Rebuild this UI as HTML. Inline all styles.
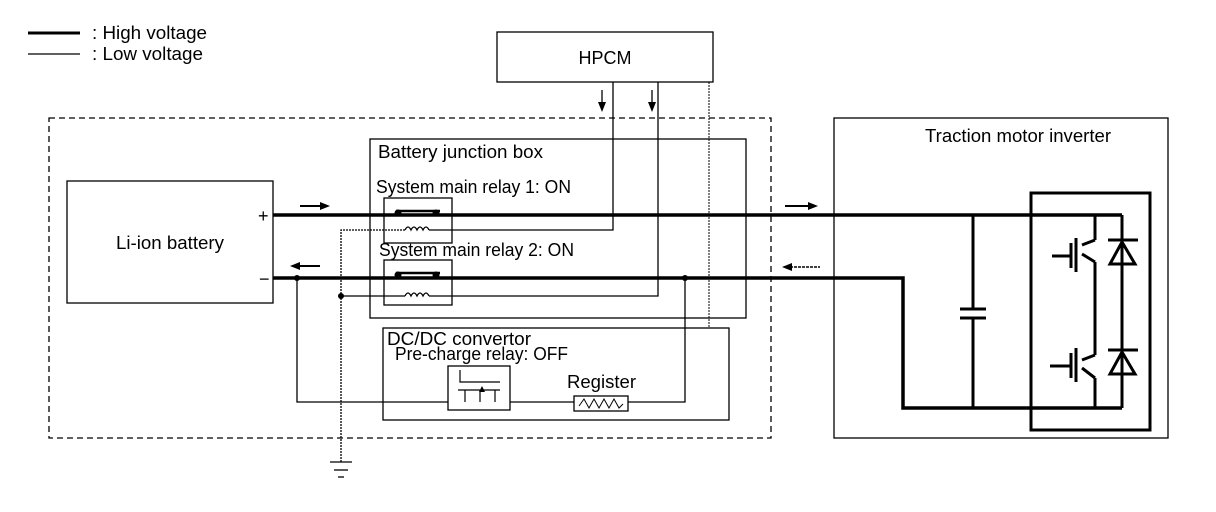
<!DOCTYPE html>
<html><head><style>
body{margin:0;background:#fff;}
svg{display:block;}
text{font-family:"Liberation Sans",sans-serif;fill:#000;}
</style></head><body>
<svg width="1216" height="512" viewBox="0 0 1216 512" xmlns="http://www.w3.org/2000/svg">
<g fill="none" stroke="#000">
<line x1="28" y1="33" x2="80" y2="33" stroke-width="3"/>
<line x1="28" y1="54" x2="80" y2="54" stroke-width="1.3"/>
<rect x="497" y="32" width="216" height="50" stroke-width="1.3"/>
<rect x="49" y="118" width="722" height="320" stroke-width="1.3" stroke-dasharray="6,4"/>
<rect x="67" y="181" width="206" height="122" stroke-width="1.3"/>
<rect x="370" y="139" width="376" height="179" stroke-width="1.3"/>
<rect x="384" y="198" width="68" height="45" stroke-width="1.3"/>
<rect x="384" y="260" width="68" height="45" stroke-width="1.3"/>
<rect x="383" y="328" width="346" height="92" stroke-width="1.3"/>
<rect x="448" y="366" width="62" height="44" stroke-width="1.3"/>
<rect x="574" y="396" width="54" height="15" stroke-width="1.3"/>
<polyline points="579,406 584,399 589,408 594,399 599,408 604,399 609,408 614,399 619,408 623,404" stroke-width="1"/>
<polyline points="460,370 460,382 500,382" stroke-width="1.2"/>
<line x1="458" y1="390" x2="500" y2="390" stroke-width="1.2"/>
<line x1="465" y1="390" x2="465" y2="402" stroke-width="1.2"/>
<line x1="495" y1="390" x2="495" y2="402" stroke-width="1.2"/>
<line x1="480" y1="390" x2="480" y2="402" stroke-width="1.2"/>
<rect x="834" y="118" width="334" height="320" stroke-width="1.3"/>
<rect x="1031" y="193" width="119" height="237" stroke-width="3"/>
<line x1="273" y1="215" x2="1122" y2="215" stroke-width="3.5"/>
<polyline points="273,278 903,278 903,408 1122,408" stroke-width="3.5"/>
<line x1="1122" y1="215" x2="1122" y2="408" stroke-width="3"/>
<line x1="1095" y1="215" x2="1095" y2="240" stroke-width="3"/>
<line x1="1095" y1="262" x2="1095" y2="355" stroke-width="3"/>
<line x1="1095" y1="378" x2="1095" y2="408" stroke-width="3"/>
<line x1="1082" y1="245" x2="1095" y2="240" stroke-width="3"/>
<line x1="1082" y1="254" x2="1095" y2="262" stroke-width="3"/>
<line x1="1082" y1="360" x2="1095" y2="355" stroke-width="3"/>
<line x1="1082" y1="368" x2="1095" y2="378" stroke-width="3"/>
<line x1="1076" y1="238" x2="1076" y2="272" stroke-width="3"/>
<line x1="1071" y1="243" x2="1071" y2="268" stroke-width="3"/>
<line x1="1052" y1="256" x2="1071" y2="256" stroke-width="3"/>
<line x1="1076" y1="348" x2="1076" y2="382" stroke-width="3"/>
<line x1="1071" y1="353" x2="1071" y2="378" stroke-width="3"/>
<line x1="1050" y1="366" x2="1071" y2="366" stroke-width="3"/>
<line x1="1108" y1="240" x2="1138" y2="240" stroke-width="3"/>
<polygon points="1110,264 1135,264 1122,242" stroke-width="3"/>
<line x1="1108" y1="350" x2="1138" y2="350" stroke-width="3"/>
<polygon points="1110,374 1135,374 1122,352" stroke-width="3"/>
<line x1="973" y1="215" x2="973" y2="309" stroke-width="3"/>
<line x1="973" y1="318" x2="973" y2="408" stroke-width="3"/>
<line x1="960" y1="309" x2="986" y2="309" stroke-width="3"/>
<line x1="960" y1="318" x2="986" y2="318" stroke-width="3"/>
<line x1="396" y1="211" x2="440" y2="211" stroke-width="2.5"/>
<line x1="396" y1="273" x2="440" y2="273" stroke-width="2.5"/>
<polyline points="341,462 341,230 405,230" stroke-width="1.3" stroke-dasharray="2,1"/>
<path d="M405,230 q3,-6 6,0 q3,-6 6,0 q3,-6 6,0 q3,-6 6,0" stroke-width="1.3"/>
<polyline points="429,230 613,230 613,82" stroke-width="1.3"/>
<polyline points="341,296 405,296" stroke-width="1.3"/>
<path d="M405,296 q3,-6 6,0 q3,-6 6,0 q3,-6 6,0 q3,-6 6,0" stroke-width="1.3"/>
<polyline points="429,296 658,296 658,82" stroke-width="1.3"/>
<line x1="709" y1="82" x2="709" y2="328" stroke-width="1" stroke-dasharray="2,1"/>
<polyline points="297,278 297,402 448,402" stroke-width="1.3"/>
<polyline points="510,402 574,402" stroke-width="1.3"/>
<polyline points="628,402 685,402 685,278" stroke-width="1.3"/>
<line x1="330" y1="462" x2="352" y2="462" stroke-width="1.3"/>
<line x1="334" y1="470" x2="348" y2="470" stroke-width="1.3"/>
<line x1="338" y1="477" x2="344" y2="477" stroke-width="1.3"/>
<line x1="300" y1="206" x2="322" y2="206" stroke-width="2"/>
<line x1="298" y1="266" x2="320" y2="266" stroke-width="2"/>
<line x1="785" y1="206" x2="810" y2="206" stroke-width="2"/>
<line x1="790" y1="267" x2="820" y2="267" stroke-width="1.5" stroke-dasharray="3,1"/>
<line x1="602" y1="90" x2="602" y2="104" stroke-width="1.3"/>
<line x1="652" y1="90" x2="652" y2="104" stroke-width="1.3"/>
</g>
<g fill="#000">
<polygon points="330,206 320,202 320,210"/>
<polygon points="290,266 300,262 300,270"/>
<polygon points="818,206 808,202 808,210"/>
<polygon points="782,267 792,263 792,271"/>
<polygon points="602,112 598,102 606,102"/>
<polygon points="652,112 648,102 656,102"/>
<polygon points="482,386 479,392 485,392"/>
<circle cx="398" cy="213" r="3.5"/><circle cx="436" cy="213" r="3.5"/>
<circle cx="398" cy="275" r="3.5"/><circle cx="436" cy="275" r="3.5"/>
<circle cx="297" cy="278" r="3"/><circle cx="685" cy="278" r="3"/>
<circle cx="341" cy="296" r="3"/>
</g>
<g font-size="18">
<text x="92" y="39" textLength="115" lengthAdjust="spacingAndGlyphs">: High voltage</text>
<text x="92" y="60" textLength="111" lengthAdjust="spacingAndGlyphs">: Low voltage</text>
<text x="605" y="64" text-anchor="middle">HPCM</text>
<text x="378" y="158" textLength="165" lengthAdjust="spacingAndGlyphs">Battery junction box</text>
<text x="376" y="193" textLength="195" lengthAdjust="spacingAndGlyphs">System main relay 1: ON</text>
<text x="379" y="256" textLength="195" lengthAdjust="spacingAndGlyphs">System main relay 2: ON</text>
<text x="116" y="249" textLength="108" lengthAdjust="spacingAndGlyphs">Li-ion battery</text>
<text x="258" y="222">+</text>
<text x="259" y="285">−</text>
<text x="387" y="345" textLength="144" lengthAdjust="spacingAndGlyphs">DC/DC convertor</text>
<text x="395" y="360" textLength="173" lengthAdjust="spacingAndGlyphs">Pre-charge relay: OFF</text>
<text x="567" y="388" textLength="69" lengthAdjust="spacingAndGlyphs">Register</text>
<text x="925" y="142" textLength="186" lengthAdjust="spacingAndGlyphs">Traction motor inverter</text>
</g>
</svg>
</body></html>
